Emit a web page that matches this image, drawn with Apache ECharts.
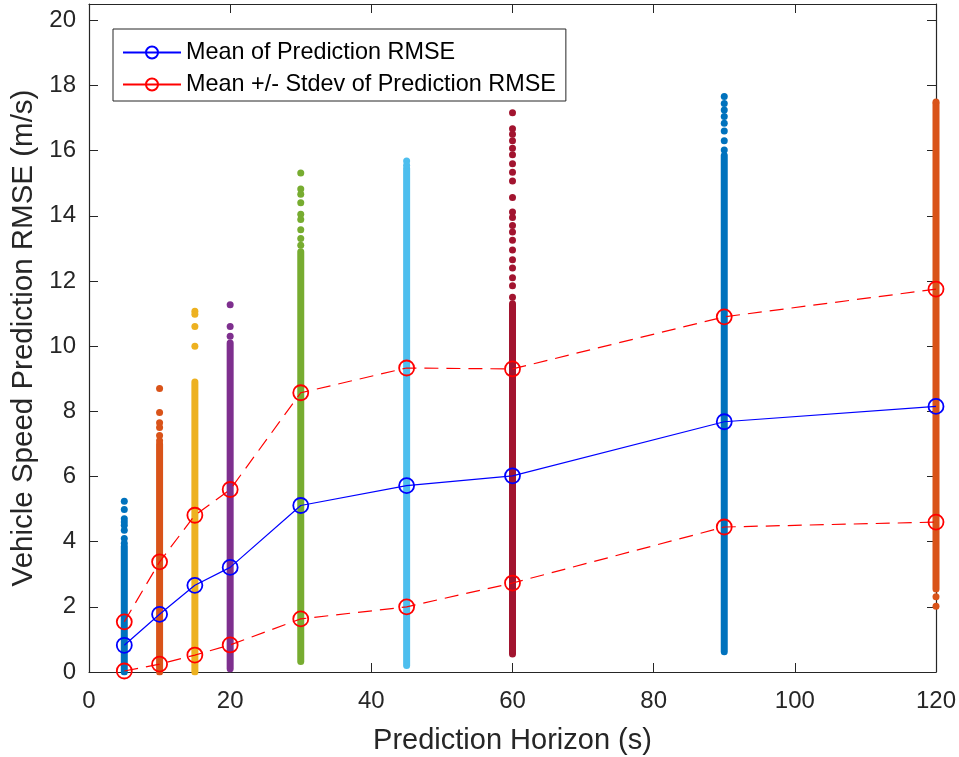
<!DOCTYPE html>
<html>
<head>
<meta charset="utf-8">
<script src="https://cdn.jsdelivr.net/npm/echarts@6/dist/echarts.min.js"></script>
<style>html,body{margin:0;padding:0;background:#fff}#c{width:959px;height:757px}</style>
</head>
<body>
<div id="c"></div>
<script>
const horizons = [5, 10, 15, 20, 30, 45, 60, 90, 120];
const meanRMSE = [0.82, 1.77, 2.66, 3.21, 5.11, 5.72, 6.02, 7.68, 8.15];
const upperRMSE = [1.54, 3.38, 4.81, 5.60, 8.57, 9.33, 9.30, 10.90, 11.75];
const lowerRMSE = [0.03, 0.24, 0.52, 0.83, 1.63, 2.00, 2.73, 4.45, 4.60];
const bandLow = [0.0, 0.0, 0.0, 0.1, 0.32, 0.2, 0.55, 0.62, 2.55];
const bandHigh = [3.85, 7.0, 8.9, 10.1, 12.9, 15.45, 11.3, 15.85, 17.45];
const sparseDots = [
  [5.24, 4.99, 4.70, 4.60, 4.50, 4.35, 4.10, 3.95],
  [8.70, 7.96, 7.65, 7.50, 7.26, 7.10],
  [11.07, 10.98, 10.60, 10.00],
  [11.27, 10.60, 10.30],
  [15.31, 14.82, 14.66, 14.40, 14.05, 13.89, 13.57, 13.30, 13.10],
  [15.68, 15.55],
  [17.16, 16.67, 16.50, 16.30, 16.07, 15.87, 15.60, 15.34, 15.07, 14.56, 14.12, 13.95, 13.70, 13.50, 13.25, 12.95, 12.65, 12.40, 12.10, 11.85, 11.50],
  [17.66, 17.45, 17.25, 17.05, 16.84, 16.60, 16.30, 16.02],
  [17.49, 2.31, 2.02]
];
const columnColors = ['#0072BD', '#D95319', '#EDB120', '#7E2F8E', '#77AC30', '#4DBEEE', '#A2142F', '#0072BD', '#D95319'];
const xTicks = {min: 0, max: 120, interval: 20};
const yTicks = {min: 0, max: 20.5, interval: 2};

const FONT = 'Arial, "Liberation Sans", Helvetica, sans-serif';
const AX = '#262626';
const NONE = 'rgba(0,0,0,0)';
const series = [];
horizons.forEach((h, i) => {
  series.push({
    type: 'line', name: 'band' + h, data: [[h, bandLow[i]], [h, bandHigh[i]]],
    symbol: 'none', silent: true, z: 1,
    lineStyle: {color: columnColors[i], width: 7, cap: 'round'}
  });
  series.push({
    type: 'scatter', name: 'dots' + h, data: sparseDots[i].map(v => [h, v]),
    symbol: 'circle', symbolSize: 7, silent: true, z: 1,
    itemStyle: {color: columnColors[i], opacity: 1}
  });
});
const pair = arr => horizons.map((h, i) => [h, arr[i]]);
series.push({
  type: 'line', name: 'Mean of Prediction RMSE', data: pair(meanRMSE), z: 5, clip: false,
  symbol: 'circle', symbolSize: 15,
  lineStyle: {color: '#0000FF', width: 1.2},
  itemStyle: {color: NONE, borderColor: '#0000FF', borderWidth: 1.8}
});
['upper', 'lower'].forEach(k => {
  series.push({
    type: 'line', name: 'Mean +/- Stdev of Prediction RMSE', data: pair(k === 'upper' ? upperRMSE : lowerRMSE), z: 5, clip: false,
    symbol: 'circle', symbolSize: 15,
    lineStyle: {color: '#FF0000', width: 1.2, type: [14, 8]},
    itemStyle: {color: NONE, borderColor: '#FF0000', borderWidth: 1.8}
  });
});

const chart = echarts.init(document.getElementById('c'), null, {renderer: 'canvas'});
chart.setOption({
  animation: false,
  backgroundColor: '#fff',
  grid: {left: 89, right: 23, top: 4, bottom: 85, containLabel: false, outerBoundsMode: 'none'},
  legend: {
    data: ['Mean of Prediction RMSE', 'Mean +/- Stdev of Prediction RMSE'],
    orient: 'vertical', left: 113, top: 29,
    backgroundColor: '#fff', borderColor: AX, borderWidth: 1, borderRadius: 0,
    padding: [12, 10, 5, 9], itemGap: 9, itemWidth: 58, itemHeight: 15,
    lineStyle: {type: 'solid'},
    textStyle: {fontFamily: FONT, fontSize: 23.4, color: '#000'}
  },
  xAxis: [{
    type: 'value', min: xTicks.min, max: xTicks.max, interval: xTicks.interval,
    name: 'Prediction Horizon (s)', nameLocation: 'middle', nameGap: 54,
    nameTextStyle: {fontFamily: FONT, fontSize: 29, color: AX},
    axisLine: {onZero: false, lineStyle: {color: AX, width: 1.2}},
    axisTick: {inside: true, length: 9, lineStyle: {color: AX}},
    axisLabel: {fontFamily: FONT, fontSize: 24, color: AX, margin: 17},
    splitLine: {show: false}
  }, {
    type: 'value', position: 'top', min: xTicks.min, max: xTicks.max, interval: xTicks.interval,
    axisLine: {show: true, onZero: false, lineStyle: {color: AX, width: 1.2}},
    axisTick: {inside: true, length: 9, lineStyle: {color: AX}},
    axisLabel: {show: false}, splitLine: {show: false}
  }],
  yAxis: [{
    type: 'value', min: yTicks.min, max: yTicks.max, interval: yTicks.interval,
    name: 'Vehicle Speed Prediction RMSE (m/s)', nameLocation: 'middle', nameGap: 48,
    nameTextStyle: {fontFamily: FONT, fontSize: 29.5, color: AX},
    axisLine: {show: true, onZero: false, lineStyle: {color: AX, width: 1.2}},
    axisTick: {inside: true, length: 9, lineStyle: {color: AX}},
    axisLabel: {fontFamily: FONT, fontSize: 24, color: AX, margin: 13, showMaxLabel: false},
    splitLine: {show: false}
  }, {
    type: 'value', position: 'right', min: yTicks.min, max: yTicks.max, interval: yTicks.interval,
    axisLine: {show: true, onZero: false, lineStyle: {color: AX, width: 1.2}},
    axisTick: {inside: true, length: 9, lineStyle: {color: AX}},
    axisLabel: {show: false}, splitLine: {show: false}
  }],
  series: series
});
</script>
</body>
</html>
